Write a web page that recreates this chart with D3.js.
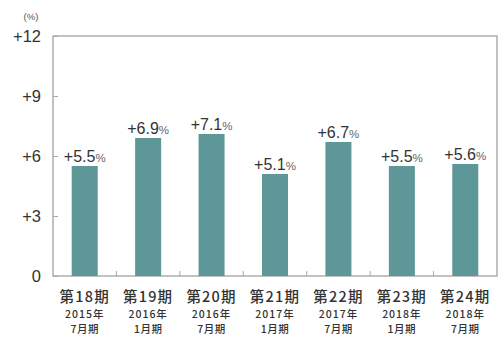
<!DOCTYPE html>
<html><head><meta charset="utf-8">
<script src="https://cdn.jsdelivr.net/npm/d3@7"></script>
<style>body{margin:0;background:#fff}svg{display:block}</style>
</head><body>
<script>
const periods = ["第18期","第19期","第20期","第21期","第22期","第23期","第24期"];
const years = ["2015年","2016年","2016年","2017年","2017年","2018年","2018年"];
const months = ["7月期","1月期","7月期","1月期","7月期","1月期","7月期"];
const values = [5.5, 6.9, 7.1, 5.1, 6.7, 5.5, 5.6];
const yTicks = [0, 3, 6, 9, 12];

const W = 501, H = 343;
const svg = d3.select("body").append("svg").attr("width", W).attr("height", H);
const font = "'Liberation Sans', Arial, sans-serif";
const jfont = "'Noto Sans CJK JP', sans-serif";
const x = d3.scaleBand().domain(periods).range([53, 497]).paddingInner(0.59).paddingOuter(0.295);
const y = d3.scaleLinear().domain([0, 12]).range([276, 36]);

// frame
svg.append("rect").attr("x", 53).attr("y", 36).attr("width", 444).attr("height", 240)
  .attr("fill", "none").attr("stroke", "#9a9a9a").attr("stroke-width", 1.2);

// y axis ticks
const ya = svg.append("g").attr("transform", "translate(53,0)")
  .call(d3.axisRight(y).tickValues(yTicks).tickSize(5).tickFormat(""));
ya.select(".domain").remove();
ya.selectAll("line").attr("stroke", "#aaa");
svg.selectAll(".ylab").data(yTicks).join("text")
  .attr("x", 41).attr("y", d => y(d) + 6).attr("text-anchor", "end")
  .attr("font-family", font).attr("font-size", 16.5).attr("fill", "#333")
  .text(d => d === 0 ? "0" : "+" + d);
svg.append("text").attr("x", 31).attr("y", 20).attr("text-anchor", "middle")
  .attr("font-family", font).attr("font-size", 9.5).attr("fill", "#555").text("(%)");

// bottom separator ticks
const step = x.step();
const seps = d3.range(1, periods.length).map(i => 53 + i * step);
svg.selectAll(".sep").data(seps).join("line")
  .attr("x1", d => d).attr("x2", d => d).attr("y1", 276).attr("y2", 271)
  .attr("stroke", "#aaa");

// bars
svg.selectAll(".bar").data(values).join("rect")
  .attr("x", (d, i) => x(periods[i])).attr("width", x.bandwidth())
  .attr("y", d => y(d)).attr("height", d => y(0) - y(d))
  .attr("fill", "#5e9797");

// value labels
const lab = svg.selectAll(".vlab").data(values).join("text")
  .attr("x", (d, i) => x(periods[i]) + x.bandwidth() / 2)
  .attr("y", d => y(d) - 4).attr("text-anchor", "middle")
  .attr("font-family", font).attr("fill", "#333");
lab.append("tspan").attr("font-size", 16).text(d => "+" + d.toFixed(1));
lab.append("tspan").attr("font-size", 11.5).attr("fill", "#666").text("%");

// x labels
const xl = svg.selectAll(".xl").data(periods).join("g")
  .attr("transform", d => `translate(${x(d) + x.bandwidth() / 2},0)`);
xl.append("text").attr("y", 302).attr("text-anchor", "middle")
  .attr("font-family", jfont).attr("font-size", 14.5).attr("font-weight", 500).attr("fill", "#333")
  .attr("letter-spacing", 1.2).text(d => d);
xl.append("text").attr("y", 318).attr("text-anchor", "middle")
  .attr("font-family", jfont).attr("font-size", 10.5).attr("font-weight", 500).attr("fill", "#333")
  .attr("letter-spacing", 1).text((d, i) => years[i]);
xl.append("text").attr("y", 333).attr("text-anchor", "middle")
  .attr("font-family", jfont).attr("font-size", 10.5).attr("font-weight", 500).attr("fill", "#333")
  .attr("letter-spacing", 0.5).text((d, i) => months[i]);
</script>
</body></html>
